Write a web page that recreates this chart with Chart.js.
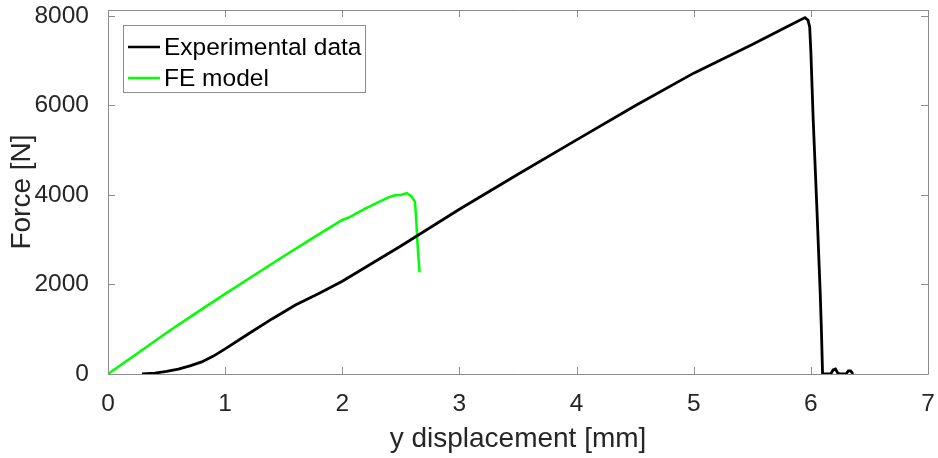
<!DOCTYPE html>
<html>
<head>
<meta charset="utf-8">
<script src="https://cdn.jsdelivr.net/npm/chart.js@4"></script>
<style>
  html, body { margin: 0; padding: 0; background: #fff; }
  #wrap { width: 938px; height: 458px; }
</style>
</head>
<body>
<div id="wrap"><canvas id="forceChart" width="938" height="458"></canvas></div>
<script>
// experimental curve
const expX = [0.29, 0.4, 0.5, 0.6, 0.7, 0.8, 0.9, 1.0, 1.2, 1.4, 1.6, 1.8, 2.0, 2.5, 3.0, 3.5, 4.0, 4.5, 5.0, 5.5, 5.8, 5.95, 5.976, 5.99, 6.0, 6.02, 6.05, 6.08, 6.09, 6.10, 6.17, 6.19, 6.21, 6.23, 6.25, 6.30, 6.32, 6.34, 6.36];
const expY = [0, 20, 60, 110, 180, 270, 400, 560, 900, 1230, 1540, 1800, 2070, 2860, 3680, 4460, 5230, 5990, 6720, 7360, 7760, 7960, 7900, 7750, 7200, 5680, 3800, 1800, 980, 0, 0, 90, 110, 20, 0, 0, 70, 70, 0];

// FE model curve
const feX = [0, 0.25, 0.5, 0.75, 1.0, 1.25, 1.5, 1.75, 2.0, 2.05, 2.2, 2.3, 2.4, 2.45, 2.5, 2.55, 2.58, 2.6, 2.62, 2.63, 2.64, 2.65, 2.66];
const feY = [0, 460, 920, 1360, 1790, 2210, 2630, 3040, 3440, 3490, 3700, 3830, 3950, 3990, 4000, 4040, 3990, 3930, 3850, 3500, 3000, 2600, 2270];

const seriesNames = ["Experimental data", "FE model"];
const seriesColors = ["#000000", "#00ff00"];

const xTicks = [0, 1, 2, 3, 4, 5, 6, 7];
const yTicks = [0, 2000, 4000, 6000, 8000];

const FONT = "'Liberation Sans', Arial, sans-serif";
const TXT = "#262626";
const AXIS = "#8c8c8c";

function toPoints(xs, ys) {
  return xs.map((x, i) => ({ x: x, y: ys[i] }));
}

// no extra room for overhanging tick labels
function noPad(s) {
  s.paddingTop = 0; s.paddingBottom = 0; s.paddingLeft = 0; s.paddingRight = 0;
}

// box, inward ticks and the legend, matlab style
const matlabBox = {
  id: 'matlabBox',
  afterDatasetsDraw(chart) {
    const c = chart.ctx;
    const a = chart.chartArea;
    const xs = chart.scales.x, ys = chart.scales.y;
    const len = 7;
    c.save();
    c.strokeStyle = AXIS;
    c.lineWidth = 1;
    c.beginPath();
    c.rect(Math.round(a.left) + 0.5, Math.round(a.top) + 0.5, Math.round(a.right - a.left), Math.round(a.bottom - a.top));
    xTicks.forEach(v => {
      const px = Math.round(xs.getPixelForValue(v)) + 0.5;
      c.moveTo(px, a.bottom); c.lineTo(px, a.bottom - len);
      c.moveTo(px, a.top); c.lineTo(px, a.top + len);
    });
    yTicks.forEach(v => {
      const py = Math.round(ys.getPixelForValue(v)) + 0.5;
      c.moveTo(a.left, py); c.lineTo(a.left + len, py);
      c.moveTo(a.right, py); c.lineTo(a.right - len, py);
    });
    c.stroke();

    // legend
    const lx = a.left + 15, ly = a.top + 15, lw = 242, lh = 67;
    c.fillStyle = "#fff";
    c.fillRect(lx, ly, lw, lh);
    c.strokeStyle = AXIS;
    c.strokeRect(lx + 0.5, ly + 0.5, lw, lh);
    c.font = "24.5px " + FONT;
    c.textBaseline = "middle";
    seriesNames.forEach((name, i) => {
      const yy = ly + 22 + i * 31;
      c.strokeStyle = seriesColors[i];
      c.lineWidth = 2.5;
      c.beginPath();
      c.moveTo(lx + 5, yy); c.lineTo(lx + 37, yy);
      c.stroke();
      c.fillStyle = "#000";
      c.fillText(name, lx + 41, yy + 1);
    });
    c.restore();
  }
};

const ctx = document.getElementById('forceChart').getContext('2d');

const forceChart = new Chart(ctx, {
  type: 'line',
  data: {
    datasets: [
      {
        label: seriesNames[0],
        data: toPoints(expX, expY),
        borderColor: seriesColors[0],
        borderWidth: 2.8,
        pointRadius: 0,
        tension: 0,
      },
      {
        label: seriesNames[1],
        data: toPoints(feX, feY),
        borderColor: seriesColors[1],
        borderWidth: 2.5,
        pointRadius: 0,
        tension: 0,
      },
    ],
  },
  options: {
    responsive: false,
    animation: false,
    layout: { padding: { top: 10, right: 10, left: 0, bottom: 0 } },
    plugins: {
      legend: { display: false },
      tooltip: { enabled: false },
    },
    scales: {
      x: {
        type: 'linear',
        min: 0,
        max: 7,
        grid: { display: false },
        border: { display: false },
        afterBuildTicks: (s) => { s.ticks = xTicks.map(v => ({ value: v })); },
        afterFit: (s) => { s.height = 84; noPad(s); },
        ticks: { color: TXT, font: { family: FONT, size: 24.5 }, padding: 8, maxRotation: 0, callback: (v) => String(v) },
        title: {
          display: true,
          text: 'y displacement [mm]',
          color: TXT,
          font: { family: FONT, size: 28 },
          padding: { top: 0, bottom: 2 },
        },
      },
      y: {
        min: 0,
        max: 8130,
        grid: { display: false },
        border: { display: false },
        afterBuildTicks: (s) => { s.ticks = yTicks.map(v => ({ value: v })); },
        afterFit: (s) => { s.width = 108; noPad(s); },
        ticks: { color: TXT, font: { family: FONT, size: 24.5 }, padding: 11, callback: (v) => String(v) },
        title: {
          display: true,
          text: 'Force [N]',
          color: TXT,
          font: { family: FONT, size: 28 },
          padding: { top: 5, bottom: 0 },
        },
      },
    },
  },
  plugins: [matlabBox],
});
</script>
</body>
</html>
